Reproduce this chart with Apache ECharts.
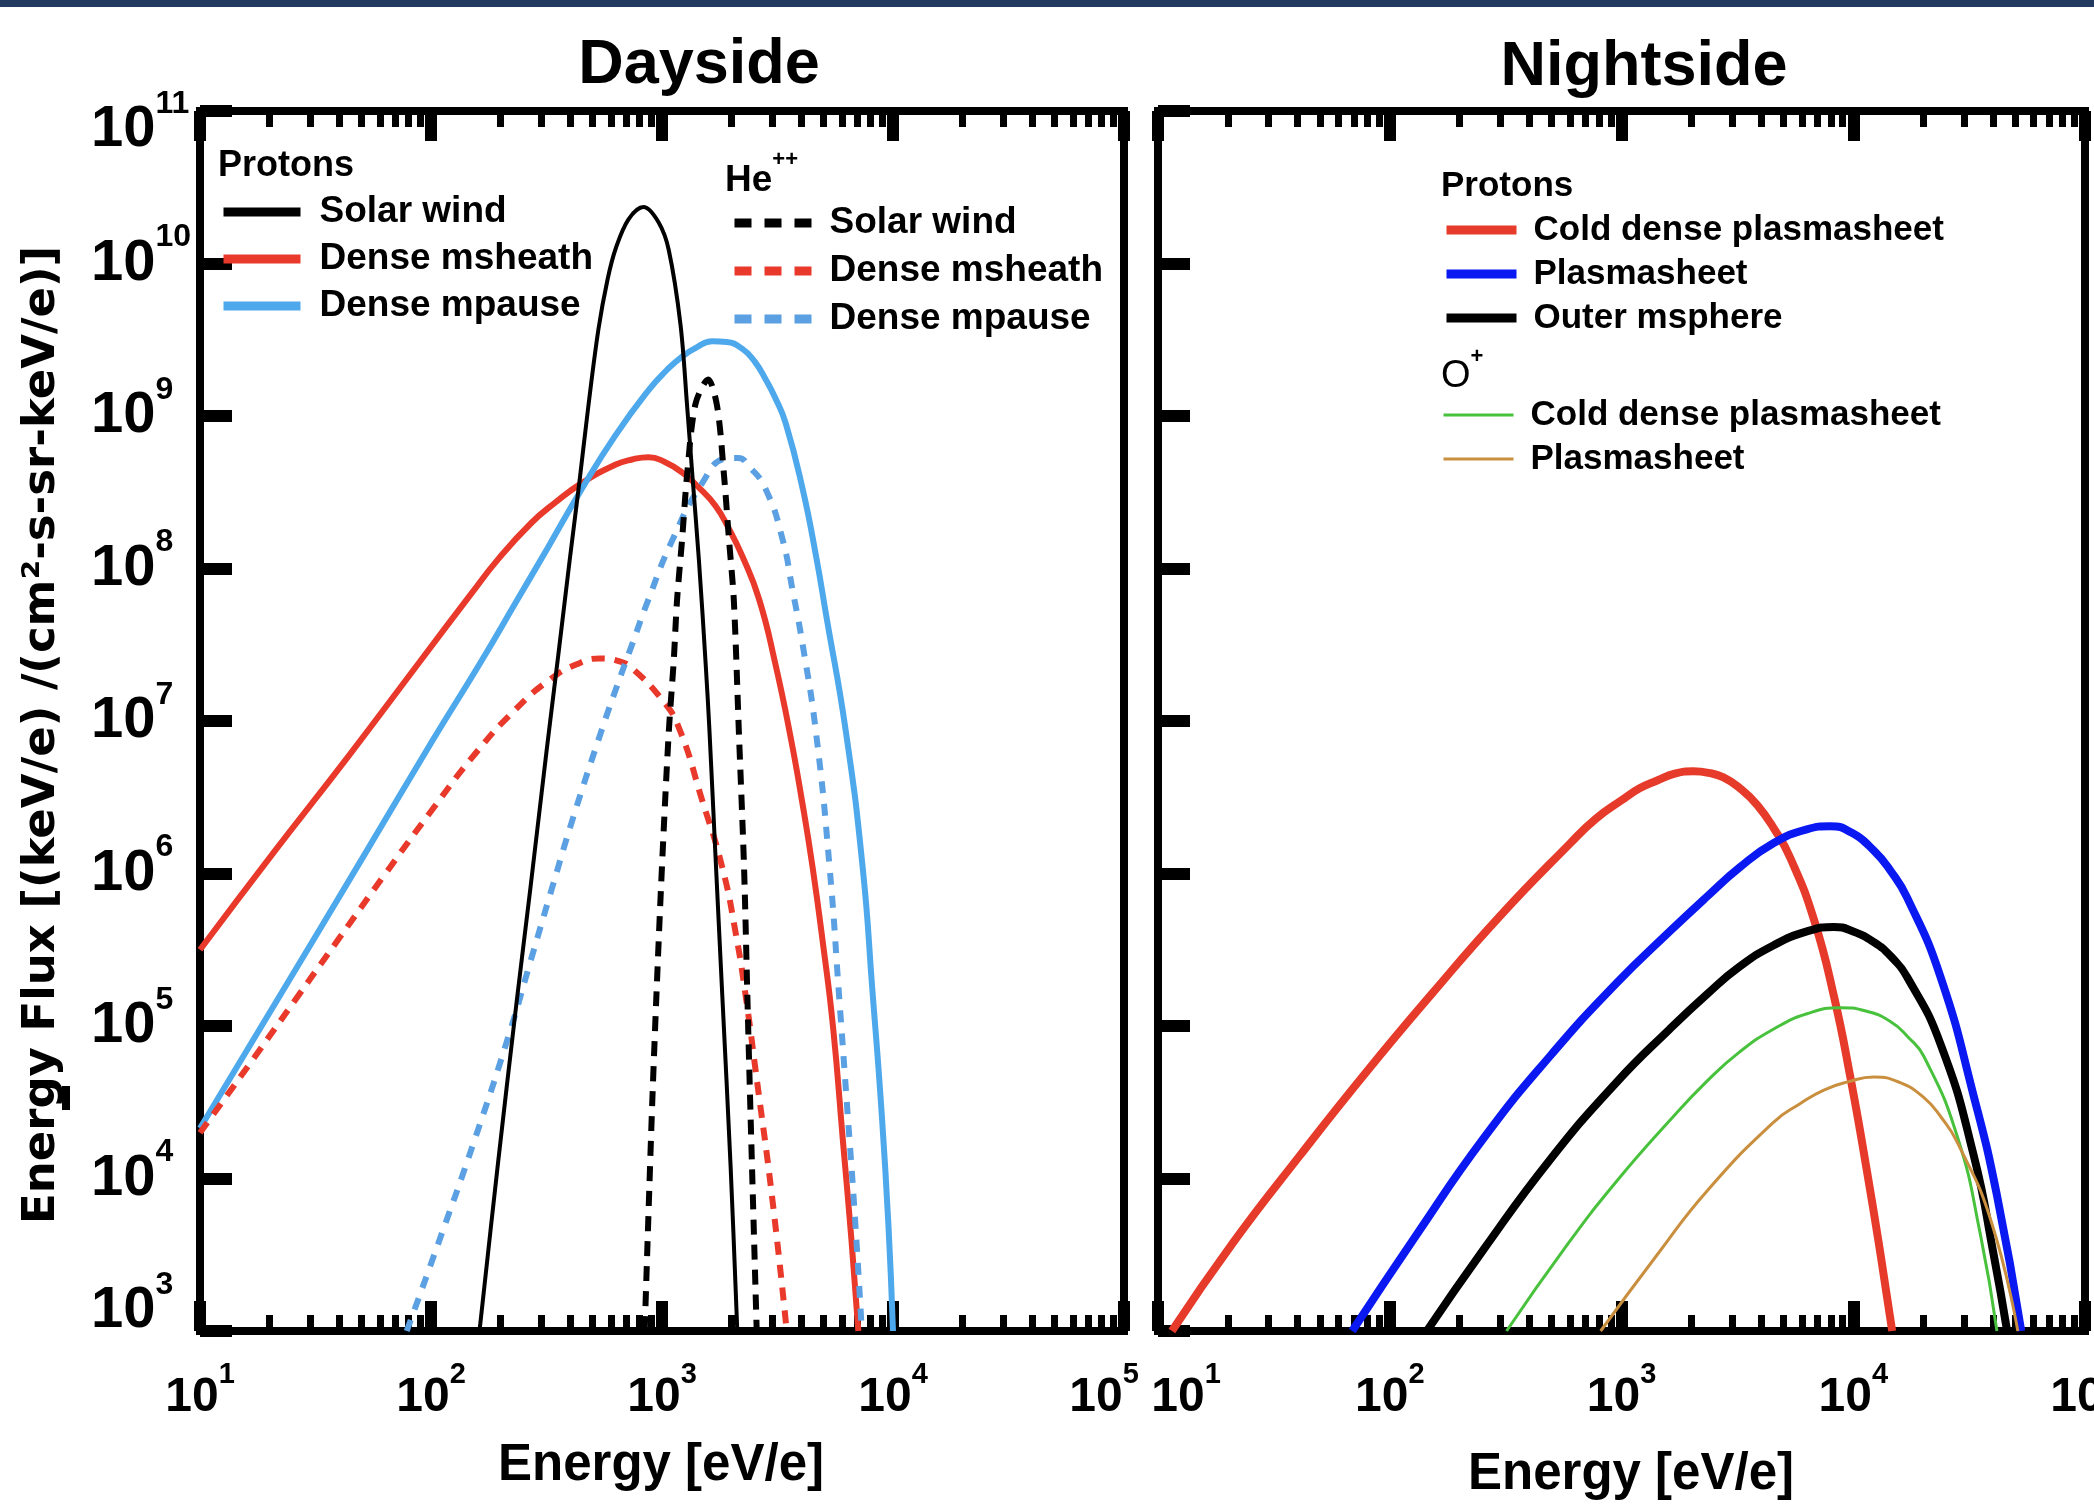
<!DOCTYPE html>
<html>
<head>
<meta charset="utf-8">
<script src="https://cdn.jsdelivr.net/npm/echarts@6/dist/echarts.min.js"></script>
<style>
  html, body { margin: 0; padding: 0; background: #fff; }
  #container { width: 2094px; height: 1508px; }
</style>
</head>
<body>
<div id="container"></div>
<script>
const FONT = '"Liberation Sans", Arial, Helvetica, sans-serif';

// axis ticks
const majorEnergy = [10, 100, 1000, 10000, 100000];
const minorEnergy = [20, 30, 40, 50, 60, 70, 80, 90, 200, 300, 400, 500, 600, 700, 800, 900,
  2000, 3000, 4000, 5000, 6000, 7000, 8000, 9000, 20000, 30000, 40000, 50000, 60000, 70000, 80000, 90000];
const fluxTicks = [1e3, 1e4, 1e5, 1e6, 1e7, 1e8, 1e9, 1e10, 1e11];

// curves as [log10 energy (eV/e), log10 energy flux]
// Dayside, protons
const dayProtonSolarWind = [[2.21, 3.0], [2.29, 4.1], [2.37, 5.15], [2.43, 5.9], [2.50, 6.8], [2.55, 7.42],
  [2.60, 8.05], [2.645, 8.6], [2.68, 9.05], [2.725, 9.57], [2.765, 9.9], [2.80, 10.1], [2.855, 10.29],
  [2.92, 10.37], [2.985, 10.27], [3.029, 10.09], [3.08, 9.6], [3.109, 9.06], [3.13, 8.64], [3.16, 8.05],
  [3.19, 7.35], [3.205, 6.95], [3.232, 6.10], [3.261, 5.20], [3.297, 4.08], [3.326, 3.0]];
const dayProtonMsheath = [[1.0, 5.50], [1.325, 6.15], [1.643, 6.77], [1.957, 7.40], [2.172, 7.83], [2.29, 8.06],
  [2.435, 8.30], [2.536, 8.43], [2.652, 8.56], [2.797, 8.68], [2.87, 8.715], [2.942, 8.73], [3.01, 8.70],
  [3.087, 8.63], [3.16, 8.53], [3.232, 8.41], [3.29, 8.26], [3.348, 8.08], [3.42, 7.80], [3.49, 7.38],
  [3.556, 6.90], [3.609, 6.45], [3.652, 6.04], [3.696, 5.55], [3.74, 5.0], [3.783, 4.25], [3.82, 3.6], [3.85, 3.0]];
const dayProtonMpause = [[1.0, 4.33], [1.354, 5.22], [1.687, 6.06], [2.006, 6.87], [2.217, 7.39], [2.368, 7.78],
  [2.507, 8.14], [2.652, 8.52], [2.797, 8.87], [2.942, 9.17], [3.02, 9.30], [3.087, 9.39], [3.15, 9.45],
  [3.217, 9.49], [3.28, 9.485], [3.348, 9.44], [3.40, 9.36], [3.449, 9.24], [3.49, 9.12], [3.536, 8.95],
  [3.609, 8.52], [3.667, 8.08], [3.71, 7.70], [3.797, 6.92], [3.87, 6.02], [3.91, 5.25], [3.95, 4.45],
  [3.98, 3.7], [4.0, 3.0]];
// Dayside, He++
const dayHeSolarWind = [[2.925, 3.0], [2.955, 4.38], [2.975, 5.17], [3.0, 6.05], [3.029, 6.92], [3.051, 7.40],
  [3.065, 7.79], [3.087, 8.19], [3.109, 8.62], [3.145, 9.08], [3.2, 9.24], [3.239, 9.06], [3.268, 8.62],
  [3.29, 8.19], [3.311, 7.79], [3.333, 6.92], [3.355, 6.05], [3.37, 5.17], [3.384, 4.38], [3.41, 3.0]];
const dayHeMsheath = [[1.0, 4.30], [1.238, 4.80], [1.426, 5.20], [1.60, 5.57], [1.803, 6.0], [2.006, 6.42],
  [2.194, 6.79], [2.368, 7.08], [2.513, 7.27], [2.628, 7.37], [2.73, 7.41], [2.82, 7.39], [2.875, 7.34],
  [3.0, 7.14], [3.072, 6.96], [3.174, 6.48], [3.261, 6.04], [3.319, 5.61], [3.362, 5.20], [3.406, 4.70],
  [3.478, 3.86], [3.54, 3.0]];
const dayHeMpause = [[1.895, 3.0], [2.014, 3.5], [2.188, 4.25], [2.339, 4.95], [2.426, 5.40], [2.527, 5.92],
  [2.614, 6.36], [2.73, 6.90], [2.803, 7.22], [2.87, 7.50], [2.942, 7.80], [3.043, 8.18], [3.174, 8.56],
  [3.275, 8.72], [3.33, 8.725], [3.377, 8.67], [3.449, 8.52], [3.522, 8.19], [3.565, 7.86], [3.609, 7.50],
  [3.667, 6.92], [3.725, 6.05], [3.768, 5.17], [3.80, 4.5], [3.835, 3.75], [3.865, 3.0]];
// Nightside, protons
const nightProtonColdDense = [[1.06, 3.0], [1.324, 3.58], [1.612, 4.15], [1.90, 4.70], [2.187, 5.22], [2.475, 5.72],
  [2.78, 6.20], [2.89, 6.36], [3.0, 6.48], [3.08, 6.56], [3.154, 6.61], [3.23, 6.655], [3.31, 6.67],
  [3.375, 6.66], [3.44, 6.63], [3.51, 6.56], [3.585, 6.45], [3.66, 6.29], [3.729, 6.10], [3.83, 5.70],
  [3.916, 5.20], [3.988, 4.66], [4.06, 4.04], [4.118, 3.50], [4.168, 3.0]];
const nightProtonPlasmasheet = [[1.838, 3.0], [2.115, 3.63], [2.403, 4.26], [2.69, 4.80], [2.978, 5.28],
  [3.208, 5.62], [3.37, 5.85], [3.51, 6.04], [3.657, 6.20], [3.80, 6.29], [3.90, 6.31], [3.99, 6.27],
  [4.089, 6.15], [4.16, 6.02], [4.233, 5.84], [4.377, 5.32], [4.52, 4.54], [4.62, 3.89], [4.725, 3.0]];
const nightProtonOuter = [[2.16, 3.0], [2.403, 3.53], [2.69, 4.12], [2.978, 4.63], [3.208, 4.98], [3.37, 5.21],
  [3.51, 5.39], [3.657, 5.53], [3.80, 5.62], [3.916, 5.65], [4.0, 5.62], [4.089, 5.55], [4.16, 5.46],
  [4.233, 5.32], [4.377, 4.88], [4.52, 4.15], [4.606, 3.50], [4.664, 3.0]];
// Nightside, O+
const nightOColdDense = [[2.504, 3.0], [2.763, 3.56], [2.978, 3.98], [3.208, 4.38], [3.37, 4.64], [3.51, 4.83],
  [3.657, 4.98], [3.80, 5.08], [3.945, 5.12], [4.05, 5.10], [4.16, 5.03], [4.235, 4.93], [4.305, 4.80],
  [4.448, 4.28], [4.549, 3.63], [4.62, 3.0]];
const nightOPlasmasheet = [[2.91, 3.0], [3.154, 3.50], [3.37, 3.92], [3.657, 4.37], [3.77, 4.49], [3.873, 4.58],
  [3.98, 4.635], [4.089, 4.665], [4.2, 4.63], [4.305, 4.53], [4.38, 4.40], [4.448, 4.24], [4.593, 3.73], [4.71, 3.0]];

function toPoints(curve) {
  return curve.map(p => [Math.pow(10, p[0]), Math.pow(10, p[1])]);
}

function curveSeries(name, curve, grid, color, width, dash, smooth) {
  return {
    name: name,
    type: 'line',
    xAxisIndex: grid === 0 ? 0 : 4,
    yAxisIndex: grid,
    data: toPoints(curve),
    symbol: 'none',
    showSymbol: false,
    smooth: smooth || 0.5,
    clip: true,
    silent: true,
    lineStyle: { color: color, width: width, type: dash || 'solid', cap: 'butt', join: 'round' },
    itemStyle: { color: color },
    emphasis: { disabled: true }
  };
}

const xRich = {
  b: { fontFamily: FONT, fontWeight: 'bold', fontSize: 48, lineHeight: 76, verticalAlign: 'middle', color: '#000' },
  s: { fontFamily: FONT, fontWeight: 'bold', fontSize: 29, lineHeight: 29, verticalAlign: 'top', color: '#000' },
  gr: { width: 40, fontSize: 10 },
  gl: { width: 56, fontSize: 10 }
};
const yRich = {
  b: { fontFamily: FONT, fontWeight: 'bold', fontSize: 58, lineHeight: 84, verticalAlign: 'middle', color: '#000' },
  s: { fontFamily: FONT, fontWeight: 'bold', fontSize: 32, lineHeight: 32, verticalAlign: 'top', color: '#000' },
  g: { fontSize: 10, lineHeight: 38 },
  g2: { fontSize: 10, lineHeight: 40 }
};

function expOf(v) { return Math.round(Math.log10(v)); }

function energyAxis(grid, position, ticks, len, width, labelFormatter) {
  return {
    type: 'log', logBase: 10, gridIndex: grid, position: position,
    min: 10, max: 100000,
    axisLine: { show: false },
    axisTick: { show: true, inside: true, length: len, customValues: ticks,
      lineStyle: { color: '#000', width: width, cap: 'butt' } },
    axisLabel: labelFormatter ? {
      show: true, margin: 29, customValues: majorEnergy, formatter: labelFormatter, rich: xRich
    } : { show: false },
    splitLine: { show: false },
    minorTick: { show: false },
    minorSplitLine: { show: false }
  };
}

function fluxAxis(grid, withLabels) {
  return {
    type: 'log', logBase: 10, gridIndex: grid, position: 'left',
    min: 1e3, max: 1e11, interval: 1,
    axisLine: { show: false },
    axisTick: { show: true, inside: true, length: 32, customValues: fluxTicks,
      lineStyle: { color: '#000', width: 12, cap: 'butt' } },
    axisLabel: withLabels ? {
      show: true, margin: 109, align: 'left', customValues: fluxTicks, rich: yRich,
      formatter: function (v) {
        const p = expOf(v);
        if (p === 11) return '{g| }\n{b|10}{s|11}';
        if (p === 3) return '{b|10}{s|3}\n{g2| }';
        return '{b|10}{s|' + p + '}';
      }
    } : { show: false },
    splitLine: { show: false },
    minorTick: { show: false }
  };
}

const legendText = function (size, pad) {
  return { fontFamily: FONT, fontWeight: 'bold', fontSize: size, lineHeight: 40, color: '#000', padding: [0, 0, 0, pad] };
};
const legendBase = {
  orient: 'vertical', padding: 0, selectedMode: false, itemHeight: 14,
  itemStyle: { opacity: 0 },
  formatter: function (name) { return name.split(':')[1]; }
};

const chart = echarts.init(document.getElementById('container'), null, { renderer: 'canvas' });

const option = {
  animation: false,
  backgroundColor: '#fff',
  grid: [
    { left: 200, top: 111, width: 924, height: 1220, show: true, borderColor: '#000', borderWidth: 8,
      backgroundColor: 'transparent', containLabel: false, outerBoundsMode: 'none' },
    { left: 1158, top: 111, width: 927, height: 1220, show: true, borderColor: '#000', borderWidth: 8,
      backgroundColor: 'transparent', containLabel: false, outerBoundsMode: 'none' }
  ],
  xAxis: [
    energyAxis(0, 'bottom', majorEnergy, 30, 12, function (v) {
      const p = expOf(v);
      return p === 5 ? '{b|10}{s|5}{gr| }' : '{b|10}{s|' + p + '}';
    }),
    energyAxis(0, 'bottom', minorEnergy, 16, 7),
    energyAxis(0, 'top', majorEnergy, 30, 12),
    energyAxis(0, 'top', minorEnergy, 16, 7),
    energyAxis(1, 'bottom', majorEnergy, 30, 12, function (v) {
      const p = expOf(v);
      return p === 1 ? '{gl| }{b|10}{s|1}' : '{b|10}{s|' + p + '}';
    }),
    energyAxis(1, 'bottom', minorEnergy, 16, 7),
    energyAxis(1, 'top', majorEnergy, 30, 12),
    energyAxis(1, 'top', minorEnergy, 16, 7)
  ],
  yAxis: [fluxAxis(0, true), fluxAxis(1, false)],
  legend: [
    Object.assign({}, legendBase, {
      left: 219, top: 192, itemWidth: 77, itemGap: 7,
      lineStyle: { width: 9, type: 'solid' },
      textStyle: legendText(37, 14),
      data: ['p:Solar wind', 'p:Dense msheath', 'p:Dense mpause']
    }),
    Object.assign({}, legendBase, {
      left: 730, top: 203, itemWidth: 78, itemGap: 8,
      lineStyle: { width: 9, type: [17, 13] },
      textStyle: legendText(37, 12),
      data: ['he:Solar wind', 'he:Dense msheath', 'he:Dense mpause']
    }),
    Object.assign({}, legendBase, {
      left: 1442, top: 210, itemWidth: 70, itemGap: 4,
      lineStyle: { width: 9, type: 'solid' },
      textStyle: legendText(35, 12),
      data: ['np:Cold dense plasmasheet', 'np:Plasmasheet', 'np:Outer msphere']
    }),
    Object.assign({}, legendBase, {
      left: 1442, top: 395, itemWidth: 70, itemGap: 4,
      lineStyle: { width: 3, type: 'solid' },
      textStyle: legendText(35, 12),
      data: ['o:Cold dense plasmasheet', 'o:Plasmasheet']
    })
  ],
  graphic: [
    { type: 'rect', shape: { x: 0, y: 0, width: 2094, height: 7 }, style: { fill: '#233a60' } },
    { type: 'rect', shape: { x: 62, y: 1086, width: 8, height: 24 }, style: { fill: '#000' } },
    { type: 'text', x: 699, y: 66, style: { text: 'Dayside', font: 'bold 63px ' + FONT, fill: '#000', align: 'center', verticalAlign: 'middle' } },
    { type: 'text', x: 1644, y: 68, style: { text: 'Nightside', font: 'bold 63px ' + FONT, fill: '#000', align: 'center', verticalAlign: 'middle' } },
    { type: 'text', x: 218, y: 166, style: { text: 'Protons', font: 'bold 36px ' + FONT, fill: '#000', align: 'left', verticalAlign: 'middle' } },
    { type: 'text', x: 725, y: 174, style: {
      text: '{h|He}{p|++}', align: 'left', verticalAlign: 'middle',
      rich: {
        h: { fontFamily: FONT, fontWeight: 'bold', fontSize: 37, lineHeight: 50, verticalAlign: 'bottom', color: '#000' },
        p: { fontFamily: FONT, fontWeight: 'bold', fontSize: 22, lineHeight: 22, verticalAlign: 'top', color: '#000' }
      } } },
    { type: 'text', x: 1441, y: 186, style: { text: 'Protons', font: 'bold 35px ' + FONT, fill: '#000', align: 'left', verticalAlign: 'middle' } },
    { type: 'text', x: 1441, y: 371, style: {
      text: '{h|O}{p|+}', align: 'left', verticalAlign: 'middle',
      rich: {
        h: { fontFamily: FONT, fontSize: 38, lineHeight: 50, verticalAlign: 'bottom', color: '#000' },
        p: { fontFamily: FONT, fontWeight: 'bold', fontSize: 22, lineHeight: 22, verticalAlign: 'top', color: '#000' }
      } } },
    { type: 'text', x: 661, y: 1466, style: { text: 'Energy [eV/e]', font: 'bold 51px ' + FONT, fill: '#000', align: 'center', verticalAlign: 'middle' } },
    { type: 'text', x: 1631, y: 1475, style: { text: 'Energy [eV/e]', font: 'bold 51px ' + FONT, fill: '#000', align: 'center', verticalAlign: 'middle' } },
    { type: 'text', x: 42, y: 735, rotation: Math.PI / 2, style: {
      text: 'Energy Flux [(keV/e) /(cm\u00b2-s-sr-keV/e)]', font: 'bold 45px "DejaVu Sans", sans-serif',
      fill: '#000', align: 'center', verticalAlign: 'middle' } }
  ],
  series: [
    curveSeries('p:Dense msheath', dayProtonMsheath, 0, '#e8392b', 6),
    curveSeries('p:Dense mpause', dayProtonMpause, 0, '#4da8ec', 6),
    curveSeries('he:Dense msheath', dayHeMsheath, 0, '#e8392b', 6, [13, 10]),
    curveSeries('he:Dense mpause', dayHeMpause, 0, '#5aa0e2', 6, [12, 11]),
    curveSeries('he:Solar wind', dayHeSolarWind, 0, '#000000', 6, [15, 10], 0.3),
    curveSeries('p:Solar wind', dayProtonSolarWind, 0, '#000000', 4, null, 0.35),
    curveSeries('np:Cold dense plasmasheet', nightProtonColdDense, 1, '#e63a2a', 8),
    curveSeries('np:Plasmasheet', nightProtonPlasmasheet, 1, '#0a18f2', 8),
    curveSeries('np:Outer msphere', nightProtonOuter, 1, '#000000', 8),
    curveSeries('o:Cold dense plasmasheet', nightOColdDense, 1, '#48c23c', 3),
    curveSeries('o:Plasmasheet', nightOPlasmasheet, 1, '#c98f3e', 3)
  ]
};

chart.setOption(option);
</script>
</body>
</html>
